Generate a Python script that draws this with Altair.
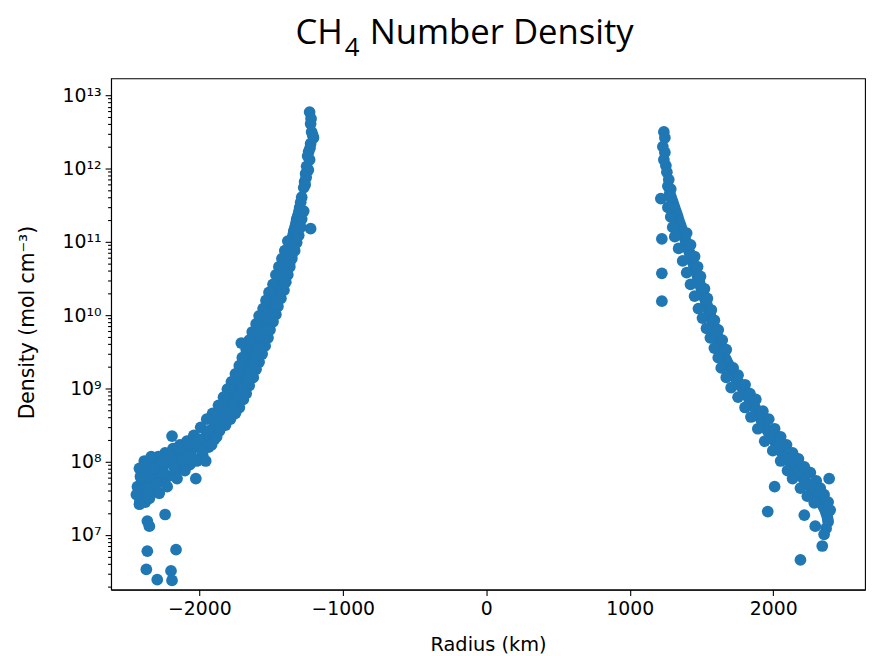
import altair as alt
import pandas as pd

# ---- data (radius in km, log10 of density) ----
left_radius_km = [
    -1231, -1224, -1217, -1204, -1224, -1238, -1231, -1252, -1259, -1266, -1272, -1224,
    -1221, -1210, -1228, -1245, -1240, -1255, -1262,
    -1286, -1300, -1307, -1321, -1328, -1341, -1348, -1362, -1369, -1383, -1390, -1404,
    -1417, -1431, -1445, -1459, -1473, -1486, -1507, -1521, -1535, -1555, -1569, -1583,
    -1604, -1617, -1638, -1652, -1673, -1686, -1707, -1728, -1748, -1769, -1790, -1817,
    -1845, -1873, -1900, -1935, -1969, -2010, -2052, -2093, -2135, -2176, -2217, -2259,
    -2300, -2335, -2369, -2390, -2404, -2410, -2417,
    -1293, -1303, -1314, -1324, -1334, -1344, -1355, -1365, -1376, -1386, -1397, -1410,
    -1424, -1438, -1452, -1466, -1479, -1496, -1514, -1528, -1545, -1562, -1576, -1593,
    -1610, -1627, -1645, -1662, -1679, -1697, -1717, -1738, -1758, -1779, -1803, -1831,
    -1859, -1886, -1917, -1952, -1990, -2031, -2072, -2114, -2155, -2197, -2238, -2279,
    -2317, -2352, -2380, -2397, -2407, -2414,
    -1272, -1286, -1293, -1307, -1321, -1335, -1355, -1369, -1383, -1397, -1410, -1431,
    -1452, -1466, -1486, -1507, -1521, -1541, -1562, -1583, -1604, -1624, -1652, -1673,
    -1693, -1721, -1748, -1783, -1817, -1859, -1893, -1935, -1976, -2017, -2066, -2114,
    -2169, -2217, -2273, -2314, -2348, -2376,
    -1383, -1404, -1424, -1445, -1466, -1486, -1514, -1535, -1555, -1583, -1604, -1631,
    -1652, -1673, -1700, -1721, -1748, -1776, -1804, -1831, -1866, -1907, -1948, -1990,
    -2038, -2086, -2135, -2183, -2238, -2286, -2335, -2376, -2410, -2431, -2438,
    -2417, -2404, -2383, -2362, -2348, -2335, -2314, -2293, -2279, -2266, -2245, -2224,
    -2210, -2190, -2176, -2155, -2142, -2121, -2100, -2073, -2052, -2024, -2004, -1983,
    -1955, -1935, -1914, -1879, -1852, -1824, -1797, -1762, -1728, -1700, -1666, -1645,
    -1617, -1597, -1576, -1548, -1521, -1493, -1479, -1459, -1438, -1424, -1404, -1390,
    -1369, -1355, -1341, -1321, -1307, -1707,
    -2238, -2362, -2348, -2362, -2162, -2369, -2293, -2197, -2190,
]
left_log10_density = [
    12.77, 12.61, 12.50, 12.42, 12.34, 12.23, 12.12, 12.03, 11.93, 11.82, 11.74, 11.18,
    12.68, 12.46, 12.28, 12.17, 11.98, 11.88, 11.78,
    11.61, 11.47, 11.39, 11.31, 11.23, 11.15, 11.07, 10.99, 10.91, 10.82, 10.74, 10.66,
    10.58, 10.50, 10.42, 10.34, 10.26, 10.18, 10.09, 10.01, 9.93, 9.85, 9.77, 9.69,
    9.61, 9.53, 9.45, 9.36, 9.28, 9.20, 9.12, 9.04, 8.96, 8.88, 8.80, 8.72,
    8.64, 8.55, 8.47, 8.39, 8.31, 8.24, 8.18, 8.12, 8.08, 8.04, 8.00, 7.95,
    7.89, 7.82, 7.76, 7.68, 7.59, 7.50, 7.42,
    11.54, 11.43, 11.35, 11.27, 11.19, 11.11, 11.03, 10.95, 10.87, 10.78, 10.70, 10.62,
    10.54, 10.46, 10.38, 10.30, 10.22, 10.13, 10.05, 9.97, 9.89, 9.81, 9.73, 9.65,
    9.57, 9.49, 9.40, 9.32, 9.24, 9.16, 9.08, 9.00, 8.92, 8.84, 8.76, 8.68,
    8.60, 8.51, 8.43, 8.35, 8.27, 8.21, 8.15, 8.10, 8.06, 8.02, 7.97, 7.92,
    7.85, 7.79, 7.72, 7.63, 7.55, 7.46,
    11.42, 11.31, 11.20, 11.09, 10.99, 10.88, 10.77, 10.66, 10.55, 10.45, 10.34, 10.23,
    10.12, 10.01, 9.91, 9.80, 9.69, 9.58, 9.47, 9.36, 9.26, 9.15, 9.04, 8.93,
    8.85, 8.74, 8.66, 8.58, 8.50, 8.42, 8.31, 8.20, 8.09, 8.01, 7.96, 7.91,
    7.85, 7.80, 7.74, 7.66, 7.55, 7.45,
    11.01, 10.88, 10.77, 10.66, 10.55, 10.42, 10.31, 10.20, 10.09, 9.99, 9.88, 9.77,
    9.66, 9.53, 9.42, 9.31, 9.20, 9.09, 8.99, 8.88, 8.77, 8.66, 8.58, 8.47,
    8.36, 8.28, 8.23, 8.18, 8.12, 8.07, 7.99, 7.91, 7.80, 7.66, 7.55,
    7.91, 7.77, 8.01, 7.64, 7.50, 8.07, 7.91, 7.70, 7.57, 8.01, 7.84, 7.66,
    8.11, 8.35, 7.93, 7.77, 8.18, 8.01, 7.88, 8.24, 8.07, 7.77, 8.31, 8.15,
    8.01, 8.42, 8.23, 8.34, 8.47, 8.61, 8.66, 8.80, 8.91, 8.99, 9.12, 9.23,
    9.32, 9.45, 9.55, 9.69, 9.80, 9.93, 10.04, 10.15, 10.26, 10.36, 10.47, 10.58,
    10.72, 10.82, 10.93, 11.07, 11.20, 9.62,
    7.28, 7.19, 7.12, 6.78, 6.80, 6.53, 6.39, 6.51, 6.38,
]
right_radius_km = [
    1238, 1245, 1238, 1252, 1272, 1266, 1217, 1279, 1293, 1307, 1321, 1335,
    1348, 1362, 1376, 1390, 1404, 1417, 1431, 1445, 1459, 1473, 1486, 1500,
    1514, 1528, 1541, 1555, 1569, 1583, 1597, 1610, 1624, 1638, 1652, 1673,
    1693, 1714, 1735, 1762, 1790, 1817, 1845, 1873, 1893, 1914, 1935, 1962,
    1990, 2017, 2045, 2073, 2100, 2128, 2155, 2183, 2211, 2238, 2266, 2293,
    2321, 2342, 2362, 2376, 2383, 2369, 2355,
    1231, 1259, 1245, 1286,
    1286, 1300, 1314, 1328, 1341, 1355, 1369, 1383, 1397, 1410, 1424, 1438,
    1452, 1466, 1479, 1493, 1507, 1521, 1535, 1548, 1562, 1576, 1590, 1603,
    1617, 1631, 1645, 1662, 1683, 1703, 1724, 1748, 1776, 1803, 1831, 1859,
    1883, 1903, 1924, 1948, 1976, 2003, 2031, 2059, 2086, 2114, 2141, 2169,
    2197, 2224, 2252, 2279, 2307, 2331, 2352, 2369, 2380,
    1224, 1224, 1224, 2390, 2010, 1962, 2217, 2190, 2342, 2293,
    1721, 1755, 1804, 1838, 1879, 1928, 1969, 2010, 2052, 2093, 2135, 2176,
    2217, 2259, 2300, 2328, 2355, 2383, 2397, 2286, 2238, 2190, 2135, 2100,
    2052, 1997, 1941, 1893, 1845, 1804, 1755, 1707, 1673, 1638, 1617, 1590,
    1562, 1535, 1507, 1479, 1452, 1424, 1397, 1369, 1341, 1314, 1300, 1286,
    1266,
    1397, 1424, 1452, 1473, 1493, 1521, 1541, 1569, 1590, 1617, 1645, 1673,
]
right_log10_density = [
    12.50, 12.42, 12.12, 12.04, 11.85, 11.76, 11.59, 11.66, 11.58, 11.50, 11.42, 11.34,
    11.26, 11.18, 11.09, 11.01, 10.93, 10.85, 10.77, 10.69, 10.61, 10.53, 10.45, 10.36,
    10.28, 10.20, 10.12, 10.04, 9.96, 9.88, 9.80, 9.72, 9.64, 9.55, 9.47, 9.39,
    9.31, 9.23, 9.15, 9.07, 8.99, 8.91, 8.82, 8.74, 8.66, 8.58, 8.50, 8.42,
    8.34, 8.26, 8.18, 8.09, 8.03, 7.96, 7.91, 7.84, 7.77, 7.70, 7.64, 7.57,
    7.50, 7.42, 7.34, 7.26, 7.18, 7.09, 7.01,
    12.30, 11.95, 12.22, 11.72,
    11.62, 11.54, 11.46, 11.38, 11.30, 11.22, 11.13, 11.05, 10.97, 10.89, 10.81, 10.73,
    10.65, 10.57, 10.49, 10.40, 10.32, 10.24, 10.16, 10.08, 10.00, 9.92, 9.84, 9.76,
    9.68, 9.60, 9.51, 9.43, 9.35, 9.27, 9.19, 9.11, 9.03, 8.95, 8.86, 8.78,
    8.70, 8.62, 8.54, 8.46, 8.38, 8.30, 8.22, 8.13, 8.06, 8.00, 7.93, 7.88,
    7.80, 7.73, 7.67, 7.60, 7.53, 7.46, 7.38, 7.30, 7.22,
    11.04, 10.57, 10.19, 7.77, 7.66, 7.32, 7.27, 6.66, 6.85, 7.12,
    9.28, 9.18, 9.05, 8.93, 8.85, 8.69, 8.58, 8.45, 8.34, 8.23, 8.12, 8.04,
    7.93, 7.85, 7.74, 7.64, 7.55, 7.45, 7.34, 7.44, 7.53, 7.64, 7.77, 7.88,
    8.01, 8.15, 8.28, 8.45, 8.61, 8.74, 8.88, 9.01, 9.15, 9.28, 9.42, 9.55,
    9.69, 9.82, 9.96, 10.09, 10.26, 10.42, 10.58, 10.74, 10.91, 11.07, 11.20, 11.34,
    11.47,
    11.12, 10.96, 10.80, 10.66, 10.53, 10.36, 10.23, 10.07, 9.93, 9.80, 9.66, 9.53,
]

x_tick_values = [-2000, -1000, 0, 1000, 2000]
y_major_exponents = [7, 8, 9, 10, 11, 12, 13]
y_major_labels = ["10⁷", "10⁸", "10⁹", "10¹⁰", "10¹¹", "10¹²", "10¹³"]
title_parts = ["CH", "4", "Number Density"]

# ---- build table ----
df = pd.DataFrame({
    "radius": left_radius_km + right_radius_km,
    "density": [10 ** v for v in left_log10_density + right_log10_density],
})

y_major_values = [10 ** e for e in y_major_exponents]
y_minor_values = [m * 10 ** k for k in range(6, 13) for m in range(2, 10)]
label_array = "[" + ",".join("'" + s + "'" for s in y_major_labels) + "]"
y_label_expr = f"{label_array}[round(log(datum.value)/LN10) - {y_major_exponents[0]}]"
x_label_expr = "datum.value < 0 ? '\u2212' + format(-datum.value, 'd') : format(datum.value, 'd')"

FONT = "DejaVu Sans"
TITLE_FONT = "Open Sans"
x_scale = alt.Scale(domain=[-2615, 2640], nice=False, zero=False)
y_scale = alt.Scale(type="log", domain=[1.8e6, 1.7e13], nice=False)

points = alt.Chart(df).mark_circle(size=140, color="#1f77b4", opacity=1).encode(
    x=alt.X("radius:Q", scale=x_scale,
            axis=alt.Axis(values=x_tick_values, labelExpr=x_label_expr, title="Radius (km)",
                          labelFont=FONT, titleFont=FONT, titleFontSize=19.5,
                          titleY=55, titleBaseline="middle")),
    y=alt.Y("density:Q", scale=y_scale,
            axis=alt.Axis(orient="left", values=y_major_values, labelExpr=y_label_expr,
                          labelFont=FONT, titleFont=FONT, titleFontSize=20.5,
                          title="Density (mol cm⁻³)", titleX=-84, titleY=246,
                          titleBaseline="middle", titleAngle=270)),
)

minor = alt.Chart(df).mark_circle(opacity=0).encode(
    y=alt.Y("density:Q", scale=y_scale,
            axis=alt.Axis(orient="left", values=y_minor_values, labels=False, title=None,
                          domain=False, tickSize=3.5, grid=False)),
)

t1 = alt.Chart(pd.DataFrame({"t": [title_parts[0]]})).mark_text(
    font=TITLE_FONT, fontSize=35, align="right", baseline="alphabetic", color="black"
).encode(text="t:N", x=alt.value(234), y=alt.value(-35))
t2 = alt.Chart(pd.DataFrame({"t": [title_parts[1]]})).mark_text(
    font=TITLE_FONT, fontSize=26, align="left", baseline="alphabetic", color="black"
).encode(text="t:N", x=alt.value(236), y=alt.value(-23))
t3 = alt.Chart(pd.DataFrame({"t": [title_parts[2]]})).mark_text(
    font=TITLE_FONT, fontSize=35, align="left", baseline="alphabetic", color="black"
).encode(text="t:N", x=alt.value(261), y=alt.value(-35))

chart = (
    alt.layer(points, minor, t1, t2, t3)
    .resolve_axis(y="independent")
    .properties(width=761, height=516, autosize="none",
                padding={"left": 104, "top": 68, "right": 2, "bottom": 64})
    .configure_view(stroke="black", strokeWidth=1.1)
    .configure_axis(
        labelFont=FONT, labelFontSize=19, labelColor="black",
        titleFont=FONT, titleFontSize=20, titleFontWeight="normal", titleColor="black",
        tickColor="black", tickWidth=1.1, tickSize=6, domainColor="black", domainWidth=1.1,
        grid=False, labelPadding=4,
    )
)

chart.save("out.html", embed_options={"renderer": "svg", "actions": False})
